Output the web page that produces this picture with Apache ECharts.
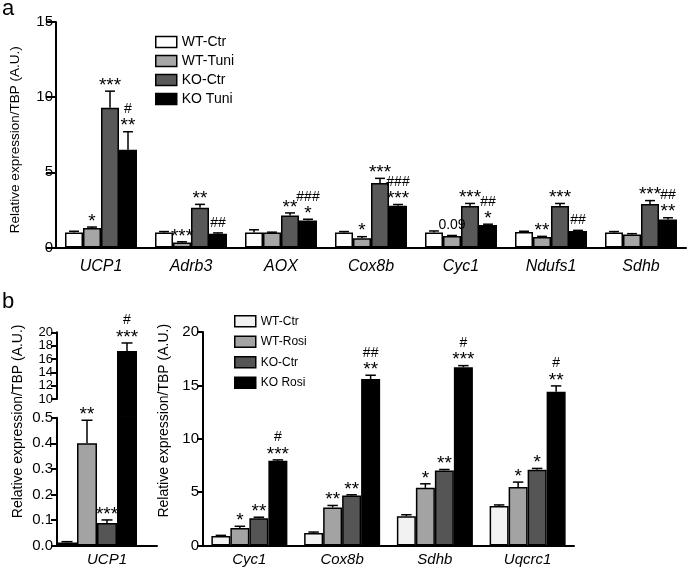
<!DOCTYPE html>
<html><head><meta charset="utf-8">
<script src="https://cdn.jsdelivr.net/npm/echarts@6/dist/echarts.min.js"></script>
<style>html,body{margin:0;padding:0;background:#fff}#c{width:697px;height:575px}</style>
</head><body><div id="c"></div>
<script>
// ---------- Panel a data ----------
const genesA = ['UCP1','Adrb3','AOX','Cox8b','Cyc1','Ndufs1','Sdhb'];
const groupsA = ['WT-Ctr','WT-Tuni','KO-Ctr','KO Tuni'];
const aWTCtr     = [1.0, 1.0, 1.0, 1.0, 1.0, 1.03, 1.0];
const aWTCtrErr  = [1.08, 1.06, 1.18, 1.06, 1.1, 1.08, 1.06];
const aWTCtrSig  = ['', '', '', '', '', '', ''];
const aWTTuni    = [1.3, 0.33, 1.0, 0.62, 0.76, 0.7, 0.87];
const aWTTuniErr = [1.36, 0.38, 1.02, 0.72, 0.8, 0.74, 0.92];
const aWTTuniSig = ['*', '***', '', '*', '0.09', '**', ''];
const aKOCtr     = [9.3, 2.65, 2.13, 4.29, 2.76, 2.76, 2.89];
const aKOCtrErr  = [10.4, 2.87, 2.3, 4.6, 2.93, 2.93, 3.12];
const aKOCtrSig  = ['***', '**', '**', '***', '***', '***', '***'];
const aKOTuni    = [6.5, 0.92, 1.8, 2.78, 1.49, 1.1, 1.87];
const aKOTuniErr = [7.7, 0.97, 1.88, 2.86, 1.55, 1.14, 1.98];
const aKOTuniSig = ['#\n**', '##', '###\n*', '###\n***', '##\n*', '##', '##\n**'];
const yTicksA = [0, 5, 10, 15];

// ---------- Panel b (left, UCP1, broken axis) ----------
const genesBL = ['UCP1'];
const groupsB = ['WT-Ctr','WT-Rosi','KO-Ctr','KO Rosi'];
const blWTCtr     = [0.012];
const blWTCtrErr  = [0.015];
const blWTCtrSig  = [''];
const blWTRosi    = [0.40];
const blWTRosiErr = [0.49];
const blWTRosiSig = ['**'];
const blKOCtr     = [0.088];
const blKOCtrErr  = [0.10];
const blKOCtrSig  = ['***'];
const blKORosi    = [17.2];
const blKORosiErr = [18.4];
const blKORosiSig = ['#\n***'];
const yTicksBLLow = [0, 0.1, 0.2, 0.3, 0.4, 0.5];
const yTicksBLHigh = [10, 12, 14, 16, 18, 20];

// ---------- Panel b (right) ----------
const genesBR = ['Cyc1','Cox8b','Sdhb','Uqcrc1'];
const brWTCtr     = [0.9, 1.16, 2.75, 3.69];
const brWTCtrErr  = [0.95, 1.26, 2.88, 3.8];
const brWTCtrSig  = ['', '', '', ''];
const brWTRosi    = [1.63, 3.56, 5.4, 5.47];
const brWTRosiErr = [1.8, 3.75, 5.78, 5.94];
const brWTRosiSig = ['*', '**', '*', '*'];
const brKOCtr     = [2.56, 4.69, 7.03, 7.09];
const brKOCtrErr  = [2.65, 4.75, 7.12, 7.22];
const brKOCtrSig  = ['**', '**', '**', '*'];
const brKORosi    = [7.95, 15.6, 16.7, 14.4];
const brKORosiErr = [8.02, 15.95, 16.85, 14.95];
const brKORosiSig = ['#\n***', '##\n**', '#\n***', '#\n**'];
const yTicksBR = [0, 5, 10, 15, 20];

// ---------- styling ----------
const FONT = '"Liberation Sans", Arial, Helvetica, sans-serif';
const colorsA = ['#ffffff', '#a6a6a6', '#595959', '#000000'];
const colorsB = ['#f2f2f2', '#a3a3a3', '#555555', '#000000'];

const valsA = [aWTCtr, aWTTuni, aKOCtr, aKOTuni];
const errsA = [aWTCtrErr, aWTTuniErr, aKOCtrErr, aKOTuniErr];
const sigsA = [aWTCtrSig, aWTTuniSig, aKOCtrSig, aKOTuniSig];
const valsBL = [blWTCtr, blWTRosi, blKOCtr, blKORosi];
const errsBL = [blWTCtrErr, blWTRosiErr, blKOCtrErr, blKORosiErr];
const sigsBL = [blWTCtrSig, blWTRosiSig, blKOCtrSig, blKORosiSig];
const valsBR = [brWTCtr, brWTRosi, brKOCtr, brKORosi];
const errsBR = [brWTCtrErr, brWTRosiErr, brKOCtrErr, brKORosiErr];
const sigsBR = [brWTCtrSig, brWTRosiSig, brKOCtrSig, brKORosiSig];

function makeItems(vals, errs, sigs, filter) {
  const items = [];
  vals.forEach((arr, g) => arr.forEach((v, c) => {
    if (filter && !filter(v, errs[g][c])) return;
    items.push([c, g, v, errs[g][c], sigs[g][c]]);
  }));
  return items;
}

function errSeries(items, xi, yi, nSlots, barW) {
  return {
    type: 'custom', xAxisIndex: xi, yAxisIndex: yi, z: 5, silent: true, clip: false,
    encode: { x: 0, y: 2 },
    data: items.map(it => [it[0], it[1], it[2], it[3]]),
    renderItem: function (params, api) {
      const it = items[params.dataIndex];
      const cat = it[0], slot = it[1], v = it[2], e = it[3], sig = it[4];
      const p0 = api.coord([cat, v]);
      const x = p0[0] + (slot - (nSlots - 1) / 2) * barW;
      const yv = p0[1];
      const ye = api.coord([cat, Math.max(e, v)])[1];
      const cap = barW * 0.55;
      const children = [];
      if (e > v) {
        children.push({ type: 'line', shape: { x1: x, y1: yv, x2: x, y2: ye }, style: { stroke: '#000', lineWidth: 1.5 } });
        children.push({ type: 'line', shape: { x1: x - cap / 2, y1: ye, x2: x + cap / 2, y2: ye }, style: { stroke: '#000', lineWidth: 1.5 } });
      }
      if (sig) {
        const lines = sig.split('\n').reverse();
        let gc = ye - 10;
        lines.forEach((ln) => {
          const isStar = /^\*+$/.test(ln);
          const font = isStar ? ('19px ' + FONT) : ('14px ' + FONT);
          children.push({
            type: 'text', x: x, y: gc + (isStar ? 4.5 : 0),
            style: { text: ln, font: font, fill: '#000', align: 'center', verticalAlign: 'middle' }
          });
          gc -= 12.5;
        });
      }
      return { type: 'group', children: children };
    }
  };
}

function barSeries(name, data, xi, yi, color, barW) {
  return {
    type: 'bar', name: name, data: data, xAxisIndex: xi, yAxisIndex: yi,
    barWidth: barW, barGap: '0%', clip: true, animation: false,
    itemStyle: { color: color, borderColor: '#000', borderWidth: 1.5 }
  };
}

const axisLineStyle = { show: true, lineStyle: { color: '#000', width: 2 } };
const tickStyle = (len) => ({ show: true, length: len, lineStyle: { color: '#000', width: 2 } });
const tickLabel = (extra) => Object.assign({ fontSize: 15, margin: 4, color: '#000', fontFamily: FONT,
  showMinLabel: true, showMaxLabel: true, hideOverlap: false, interval: 0 }, extra || {});

const series = [];
// panel a bars
valsA.forEach((arr, g) => series.push(barSeries(groupsA[g], arr, 0, 0, colorsA[g], 18)));
series.push(errSeries(makeItems(valsA, errsA, sigsA), 0, 0, 4, 18));

// panel b left: lower (0 - 0.5), upper (10 - 20), filler for break gap
const lowMax = yTicksBLLow[yTicksBLLow.length - 1];
const highMin = yTicksBLHigh[0];
valsBL.forEach((arr, g) => series.push(barSeries(groupsB[g], arr, 1, 1, colorsB[g], 20)));
series.push(barSeries('', [null], 1, 1, '#fff', 20));
valsBL.forEach((arr, g) => series.push(barSeries(groupsB[g], arr.map(v => v > highMin ? v : null), 2, 2, colorsB[g], 20)));
series.push(barSeries('', [null], 2, 2, '#fff', 20));
valsBL.forEach((arr, g) => series.push(barSeries(groupsB[g], arr.map(v => v > lowMax ? 1 : null), 3, 3, colorsB[g], 20)));
series.push(barSeries('', [null], 3, 3, '#fff', 20));
series.push(errSeries(makeItems(valsBL, errsBL, sigsBL, (v, e) => e <= lowMax), 1, 1, 5, 20));
series.push(errSeries(makeItems(valsBL, errsBL, sigsBL, (v, e) => v >= highMin), 2, 2, 5, 20));

// panel b right
valsBR.forEach((arr, g) => series.push(barSeries(groupsB[g], arr, 4, 4, colorsB[g], 19)));
series.push(errSeries(makeItems(valsBR, errsBR, sigsBR), 4, 4, 4, 19));

const yTitle = 'Relative expression/TBP (A.U.)';

const option = {
  animation: false,
  textStyle: { fontFamily: FONT, color: '#000' },
  title: [
    { text: 'a', left: 2, top: -2, padding: 0, textStyle: { fontSize: 22, fontWeight: 'normal', color: '#000', fontFamily: FONT } },
    { text: 'b', left: 2, top: 291, padding: 0, textStyle: { fontSize: 22, fontWeight: 'normal', color: '#000', fontFamily: FONT } }
  ],
  legend: [
    {
      orient: 'vertical', left: 150, top: 30, itemWidth: 21, itemHeight: 11, itemGap: 5,
      textStyle: { fontSize: 14, color: '#000', fontFamily: FONT },
      data: groupsA.map((n, i) => ({ name: n, icon: 'rect', itemStyle: { color: colorsA[i], borderColor: '#000', borderWidth: 1.5 } })),
      selectedMode: false
    },
    {
      orient: 'vertical', left: 229, top: 310, itemWidth: 21, itemHeight: 11, itemGap: 8,
      textStyle: { fontSize: 12, color: '#000', fontFamily: FONT },
      data: groupsB.map((n, i) => ({ name: n, icon: 'rect', itemStyle: { color: colorsB[i], borderColor: '#000', borderWidth: 1.5 } })),
      selectedMode: false
    }
  ],
  grid: [
    { left: 56, top: 22, width: 630, height: 225.5 },
    { left: 57, top: 417.7, width: 100, height: 127.8 },
    { left: 57, top: 332.3, width: 100, height: 66.7 },
    { left: 57, top: 399, width: 100, height: 18.7 },
    { left: 203, top: 332, width: 371, height: 213.5 }
  ],
  xAxis: [
    { type: 'category', gridIndex: 0, data: genesA, axisLine: axisLineStyle, axisTick: { show: false },
      axisLabel: { fontStyle: 'italic', fontSize: 16, margin: 11, color: '#000', fontFamily: FONT } },
    { type: 'category', gridIndex: 1, data: genesBL, axisLine: axisLineStyle, axisTick: { show: false },
      axisLabel: { fontStyle: 'italic', fontSize: 15, margin: 7, color: '#000', fontFamily: FONT } },
    { type: 'category', gridIndex: 2, data: genesBL, show: false },
    { type: 'category', gridIndex: 3, data: genesBL, show: false },
    { type: 'category', gridIndex: 4, data: genesBR, axisLine: axisLineStyle, axisTick: { show: false },
      axisLabel: { fontStyle: 'italic', fontSize: 15, margin: 7, color: '#000', fontFamily: FONT } }
  ],
  yAxis: [
    { type: 'value', gridIndex: 0, min: yTicksA[0], max: yTicksA[yTicksA.length - 1], interval: yTicksA[1] - yTicksA[0],
      axisLine: axisLineStyle, axisTick: tickStyle(10), splitLine: { show: false },
      axisLabel: tickLabel({ margin: 3 }),
      name: yTitle, nameLocation: 'middle', nameGap: 34,
      nameTextStyle: { fontSize: 13.5, color: '#000', fontFamily: FONT, padding: [0, 10, 0, 0] } },
    { type: 'value', gridIndex: 1, min: yTicksBLLow[0], max: lowMax, interval: 0.1,
      axisLine: axisLineStyle, axisTick: tickStyle(6), splitLine: { show: false },
      axisLabel: tickLabel({ formatter: v => v.toFixed(1) }) },
    { type: 'value', gridIndex: 2, min: highMin, max: yTicksBLHigh[yTicksBLHigh.length - 1], interval: 2,
      axisLine: axisLineStyle, axisTick: tickStyle(6), splitLine: { show: false },
      axisLabel: tickLabel({ fontSize: 13 }) },
    { type: 'value', gridIndex: 3, min: 0, max: 1,
      axisLine: { show: false }, axisTick: { show: false }, axisLabel: { show: false }, splitLine: { show: false },
      name: yTitle, nameLocation: 'middle', nameGap: 32,
      nameTextStyle: { fontSize: 14, color: '#000', fontFamily: FONT, padding: [0, 26, 0, 0] } },
    { type: 'value', gridIndex: 4, min: yTicksBR[0], max: yTicksBR[yTicksBR.length - 1], interval: 5,
      axisLine: axisLineStyle, axisTick: tickStyle(6), splitLine: { show: false },
      axisLabel: tickLabel(),
      name: yTitle, nameLocation: 'middle', nameGap: 32,
      nameTextStyle: { fontSize: 14, color: '#000', fontFamily: FONT, padding: [0, 0, 0, 36] } }
  ],
  series: series
};

const chart = echarts.init(document.getElementById('c'), null, { renderer: 'canvas' });
chart.setOption(option);
</script>
</body></html>
